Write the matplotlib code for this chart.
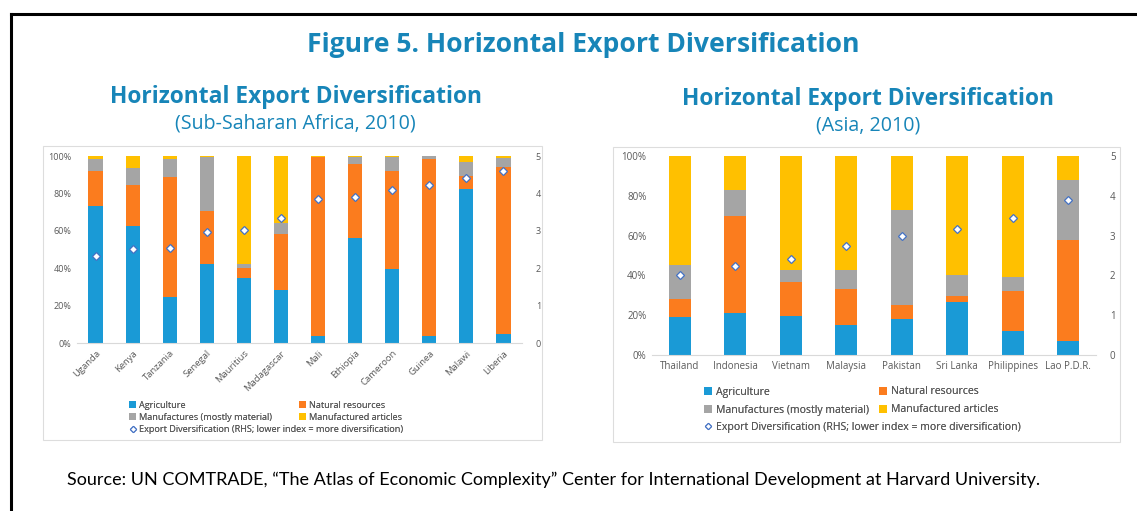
import matplotlib
matplotlib.use("Agg")
import matplotlib.pyplot as plt
from matplotlib.patches import Patch, Rectangle
from matplotlib.lines import Line2D
import numpy as np

W, H = 1137, 511

# --- data (shares in %, index on RHS) ---
africa_countries = ["Uganda", "Kenya", "Tanzania", "Senegal", "Mauritius", "Madagascar",
                    "Mali", "Ethiopia", "Cameroon", "Guinea", "Malawi", "Liberia"]
africa_agri = [73.4, 62.7, 24.6, 42.3, 34.8, 28.4, 3.9, 56.0, 39.8, 3.9, 82.1, 4.8]
africa_natres = [18.6, 21.6, 64.3, 28.4, 5.2, 29.8, 95.4, 39.9, 52.0, 94.7, 7.4, 89.1]
africa_manmat = [6.4, 9.1, 9.5, 28.9, 2.1, 5.9, 0.3, 3.4, 7.8, 1.4, 7.1, 5.2]
africa_articles = [1.6, 6.6, 1.6, 0.4, 57.9, 35.9, 0.4, 0.7, 0.4, 0.0, 3.4, 0.9]
africa_index = [2.33, 2.50, 2.54, 2.96, 3.02, 3.35, 3.86, 3.91, 4.08, 4.22, 4.40, 4.59]

asia_countries = ["Thailand", "Indonesia", "Vietnam", "Malaysia", "Pakistan",
                  "Sri Lanka", "Philippines", "Lao P.D.R."]
asia_agri = [19.3, 20.9, 19.8, 14.9, 18.1, 26.8, 12.1, 6.9]
asia_natres = [8.8, 48.9, 17.1, 18.1, 7.0, 3.0, 20.2, 51.1]
asia_manmat = [17.1, 13.1, 5.6, 9.9, 47.6, 10.4, 6.7, 30.1]
asia_articles = [54.8, 17.1, 57.5, 57.1, 27.3, 59.8, 61.0, 11.9]
asia_index = [2.01, 2.24, 2.41, 2.73, 2.98, 3.16, 3.43, 3.89]

categories = ["Agriculture", "Natural resources",
              "Manufactures (mostly material)", "Manufactured articles"]
index_label = "Export Diversification (RHS; lower index = more diversification)"

COLORS = ["#1A9AD6", "#FB7C1E", "#A5A5A5", "#FFC000"]
TITLE_BLUE = "#1785B8"
GREY_TXT = "#595959"

plt.rcParams["font.family"] = ["Open Sans", "DejaVu Sans"]

fig = plt.figure(figsize=(W / 100, H / 100), dpi=100)


def fx(px):
    return px / W


def fy(py):
    return 1 - py / H


def draw_panel(rect, countries, series, index, fs, xfs, rotate, bar_w):
    left, top, right, bottom = rect
    ax = fig.add_axes([fx(left), fy(bottom), fx(right - left), fy(top) - fy(bottom)])
    x = np.arange(len(countries))
    base = np.zeros(len(countries))
    for vals, col in zip(series, COLORS):
        vals = np.array(vals)
        ax.bar(x, vals, bottom=base, width=bar_w, color=col, zorder=2)
        base += vals
    ax.set_xlim(-0.5, len(countries) - 0.5)
    ax.set_ylim(0, 100)
    ax.set_yticks(range(0, 101, 20))
    ax.set_yticklabels([f"{v}%" for v in range(0, 101, 20)])
    ax.set_xticks(x)
    if rotate:
        ax.set_xticklabels(countries, rotation=45, ha="right", rotation_mode="anchor")
    else:
        ax.set_xticklabels(countries)
    for s in ["top", "right", "left"]:
        ax.spines[s].set_visible(False)
    ax.spines["bottom"].set_color("#D9D9D9")
    ax.tick_params(length=0, labelsize=fs, colors=GREY_TXT, pad=4)
    ax.tick_params(axis="x", labelsize=xfs)

    ax2 = ax.twinx()
    ax2.plot(x, index, linestyle="none", marker="D", markersize=3.6,
             markerfacecolor="white", markeredgecolor="#4472C4", markeredgewidth=0.9, zorder=3)
    ax2.set_ylim(0, 5)
    ax2.set_yticks(range(0, 6))
    for s in ["top", "right", "left", "bottom"]:
        ax2.spines[s].set_visible(False)
    ax2.tick_params(length=0, labelsize=fs, colors=GREY_TXT, pad=10)
    return ax


def draw_legend(x0, col2, rows, fs):
    handles = [Patch(facecolor=c, edgecolor="none") for c in COLORS]
    ys = rows
    items = [(x0, ys[0], 0), (col2, ys[0], 1), (x0, ys[1], 2), (col2, ys[1], 3)]
    for px, py, i in items:
        leg = fig.legend([handles[i]], [categories[i]], loc="center left",
                         bbox_to_anchor=(fx(px), fy(py)), frameon=False,
                         fontsize=fs, handlelength=0.8, handleheight=0.8,
                         handletextpad=0.3, borderpad=0, borderaxespad=0, labelcolor=GREY_TXT)
        fig.add_artist(leg)
    dia = Line2D([], [], linestyle="none", marker="D", markersize=3.2,
                 markerfacecolor="white", markeredgecolor="#4472C4", markeredgewidth=0.8)
    leg = fig.legend([dia], [index_label], loc="center left",
                     bbox_to_anchor=(fx(x0), fy(ys[2])), frameon=False, fontsize=fs,
                     handlelength=0.8, handletextpad=0.3, borderpad=0, borderaxespad=0,
                     labelcolor=GREY_TXT)
    fig.add_artist(leg)


# outer frame (top and left lines)
fig.add_artist(Line2D([fx(11), 1], [fy(14), fy(14)], color="black", lw=2.2))
fig.add_artist(Line2D([fx(11), fx(11)], [fy(14), 0], color="black", lw=2.2))

# panel boxes
for (l, t, r, b) in [(43, 146, 542, 440), (613, 147, 1120, 442)]:
    fig.add_artist(Rectangle((fx(l), fy(b)), fx(r - l), fy(t) - fy(b),
                             transform=fig.transFigure, fill=False,
                             edgecolor="#DDDDDD", lw=0.8))

fig.text(fx(583), fy(45), "Figure 5. Horizontal Export Diversification",
         ha="center", va="center", fontsize=19.1, fontweight="bold", color=TITLE_BLUE)

fig.text(fx(296), fy(97), "Horizontal Export Diversification", ha="center", va="center",
         fontsize=16.4, fontweight="bold", color=TITLE_BLUE)
fig.text(fx(295), fy(123), "(Sub-Saharan Africa, 2010)", ha="center", va="center",
         fontsize=14.1, color=TITLE_BLUE)
fig.text(fx(868), fy(99), "Horizontal Export Diversification", ha="center", va="center",
         fontsize=16.4, fontweight="bold", color=TITLE_BLUE)
fig.text(fx(868), fy(125), "(Asia, 2010)", ha="center", va="center",
         fontsize=14.1, color=TITLE_BLUE)

draw_panel((77, 156, 522, 343), africa_countries,
           [africa_agri, africa_natres, africa_manmat, africa_articles],
           africa_index, 6.5, 6.8, True, 0.38)
draw_panel((652, 156, 1096, 355), asia_countries,
           [asia_agri, asia_natres, asia_manmat, asia_articles],
           asia_index, 7, 7, False, 0.4)

draw_legend(129, 299, [405, 417, 430], 6.6)
draw_legend(704, 879, [392, 410, 427], 7.6)

fig.text(fx(67), fy(480),
         "Source: UN COMTRADE, \u201cThe Atlas of Economic Complexity\u201d Center for "
         "International Development at Harvard University.",
         ha="left", va="center", fontsize=13.0, color="black", family=["Lato", "DejaVu Sans"])

fig.savefig("out.png", dpi=100)
